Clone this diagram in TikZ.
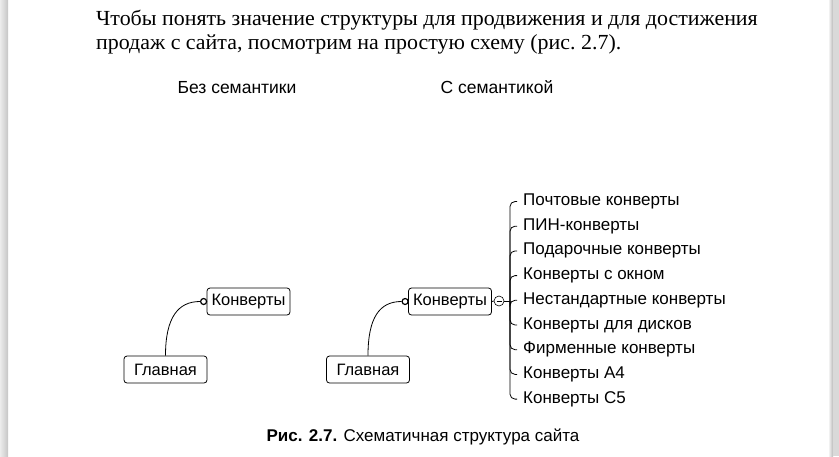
\documentclass[tikz,border=0pt]{standalone}
\usepackage{fontspec}
\setmainfont{Liberation Serif}
\setsansfont{Liberation Sans}
\newfontfamily\textserif[FakeStretch=1.02]{Liberation Serif}
\tikzset{
  sitebox/.style={draw, rounded corners=3pt, line width=0.8pt, minimum width=83pt,
    minimum height=27pt, inner sep=0pt, font=\sffamily\fontsize{16.5}{17}\selectfont},
  leaf/.style={anchor=west, inner sep=0pt, font=\sffamily\fontsize{17}{18}\selectfont},
  heading/.style={anchor=base, inner sep=0pt, font=\sffamily\fontsize{17.5}{18}\selectfont},
  joint/.style={circle, draw, line width=1.2pt, fill=white, inner sep=0pt, minimum size=6pt},
  link/.style={line width=0.8pt}
}
\begin{document}
\begin{tikzpicture}[x=1pt, y=-1pt]
  \useasboundingbox (0,0) rectangle (839,456);
  % page edges
  \shade[left color=gray!15, right color=gray!45] (0,0) rectangle (8,456);
  \shade[left color=white, right color=gray!55] (828,0) rectangle (833,456);
  \fill[gray!30] (833,0) rectangle (839,456);
  % text above the figure
  \node[anchor=base west, inner sep=0pt, font=\textserif\fontsize{21.5}{26}\selectfont] (line1) at (96,25.5)
    {Чтобы понять значение структуры для продвижения и для достижения};
  \node[anchor=base west, inner sep=0pt, font=\textserif\fontsize{21.5}{26}\selectfont] (line2) at (96,49)
    {продаж с сайта, посмотрим на простую схему (рис.~2.7).};
  % headings
  \node[heading] (headL) at (237,93) {Без семантики};
  \node[heading] (headR) at (497,93) {С семантикой};
  % left: without semantics
  \node[sitebox] (mainL) at (165.5,369.5) {Главная};
  \node[sitebox] (envL) at (248.5,301.5) {Конверты};
  \node[joint] (dotL) at ([xshift=-3pt]envL.west) {};
  \draw[link] (mainL.north) .. controls +(0,-38) and +(-22,0) .. (dotL.west);
  % right: with semantics
  \node[sitebox] (mainR) at (368,369.5) {Главная};
  \node[sitebox] (envR) at (450,301.5) {Конверты};
  \node[joint] (dotR) at ([xshift=-3pt]envR.west) {};
  \draw[link] (mainR.north) .. controls +(0,-38) and +(-22,0) .. (dotR.west);
  \node[circle, draw, line width=0.6pt, inner sep=0pt, minimum size=10pt] (hub) at (499,301) {};
  \draw[line width=0.6pt] (hub.center) ++(-2.5,0) -- ++(5,0);
  \draw[link] (envR.east) -- (hub.west);
  \coordinate (trunk) at (510,301);
  \draw[link] (hub.east) -- (trunk);
  \foreach \txt [count=\i] in {Почтовые конверты, ПИН-конверты, Подарочные конверты,
      Конверты с окном, Нестандартные конверты, Конверты для дисков,
      Фирменные конверты, Конверты А4, Конверты С5} {
    \node[leaf] (item\i) at (523,{201.5+24.7*(\i-1)}) {\txt};
    \draw[link, rounded corners=5pt] (trunk) |- ([xshift=-6pt]item\i.west);
  }
  % caption
  \node[anchor=base, inner sep=0pt, font=\sffamily\fontsize{17}{19}\selectfont] (caption) at (423,441)
    {\textbf{Рис. 2.7.} Схематичная структура сайта};
\end{tikzpicture}
\end{document}
